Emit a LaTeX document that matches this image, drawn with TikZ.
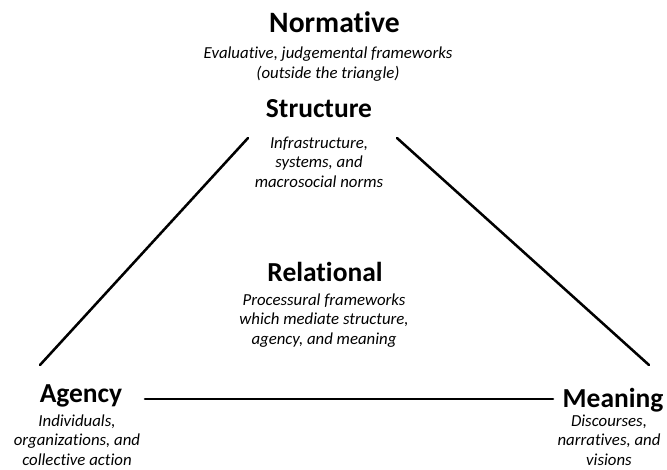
\documentclass[tikz,border=0pt]{standalone}
\usepackage{fontspec}
\setmainfont{Carlito}[Ligatures=NoCommon]
\usepackage{tikz}

\tikzset{
  head/.style={font=\fontsize{20.6}{24}\selectfont\bfseries, inner sep=0pt, anchor=base},
  desc/.style={font=\fontsize{12.6}{14.6}\selectfont\itshape, align=center, inner sep=0pt, anchor=base},
  side/.style={line width=1.9pt, line cap=round}
}

\begin{document}
\begin{tikzpicture}[x=0.75pt,y=0.75pt,yscale=-1,xscale=1]
\useasboundingbox (0,0) rectangle (667,469);

%Text Node
\node[head, font=\fontsize{22.2}{26}\selectfont\bfseries] (normative) at (334.5,32) {Normative};
%Text Node
\node[desc] (normdesc) at (328,78) {Evaluative, judgemental frameworks\\(outside the triangle)};
%Text Node
\node[head] (structure) at (319,117) {Structure};
%Text Node
\node[desc] (structdesc) at (319,187) {Infrastructure,\\systems, and\\macrosocial norms};
%Text Node
\node[head] (relational) at (325,281) {Relational};
%Text Node
\node[desc] (reldesc) at (324,344) {Processural frameworks\\which mediate structure,\\agency, and meaning};
%Text Node
\node[head] (agency) at (81,402) {Agency};
%Text Node
\node[desc] (agdesc) at (77,465) {Individuals,\\organizations, and\\collective action};
%Text Node
\node[head] (meaning) at (613,407) {Meaning};
%Text Node
\node[desc] (meandesc) at (609,465) {Discourses,\\narratives, and\\visions};

%Line ends
\coordinate (s-left) at (248,138);
\coordinate (s-right) at (397,138);
\coordinate (a-top) at (40,365);
\coordinate (a-right) at (145,399);
\coordinate (m-top) at (649,365);
\coordinate (m-left) at (553,399);

%Straight Lines
\draw[side] (s-left) -- (a-top);
%Straight Lines
\draw[side] (s-right) -- (m-top);
%Straight Lines
\draw[side] (a-right) -- (m-left);

\end{tikzpicture}
\end{document}
